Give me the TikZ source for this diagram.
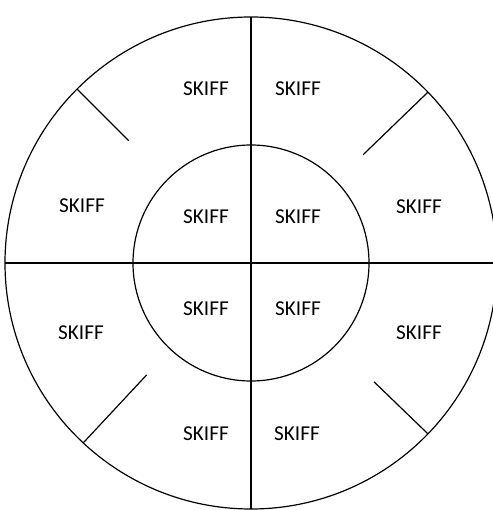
\documentclass[tikz,border=0pt]{standalone}
\usepackage{fontspec}
\setmainfont{Carlito}
\usepackage{tikz}
\usetikzlibrary{calc}

\begin{document}
\begin{tikzpicture}[x=0.5pt, y=0.5pt, every node/.style={align=center}]
\tikzset{
  ring/.style={draw, circle, line width=0.6pt, inner sep=0pt, outer sep=0pt},
  divider/.style={line width=0.6pt},
  lbl/.style={font=\fontsize{10.6}{12}\selectfont, inner sep=0pt}
}
\useasboundingbox (0,0) rectangle (493,510);
\coordinate (c) at (251,247);
\node[ring, minimum size=246pt] (outer) at (c) {};
\node[ring, minimum size=118pt] (inner) at (c) {};
\draw[divider] (outer.north) -- (outer.south);
\draw[divider] (outer.west) -- (outer.east);
% short spokes in the outer ring
\coordinate (tlend) at ($(c)+(135:173)$);
\coordinate (trend) at ($(c)+(44:156)$);
\coordinate (blend) at ($(c)+(227:153)$);
\coordinate (brend) at ($(c)+(316:171)$);
\draw[divider] (outer.135) -- (tlend);
\draw[divider] (outer.44) -- (trend);
\draw[divider] (outer.227) -- (blend);
\draw[divider] (outer.316) -- (brend);
\foreach \x/\y/\n in {206/421/otl, 298/421/otr, 82/304/olu, 419/303/oru,
  206/293/itl, 298/293/itr, 206/201/ibl, 298/201/ibr,
  81/177/oll, 419/177/orl, 206/76/obl, 297/76/obr}
  \node[lbl] (\n) at (\x,\y) {SKIFF};
\end{tikzpicture}
\end{document}
